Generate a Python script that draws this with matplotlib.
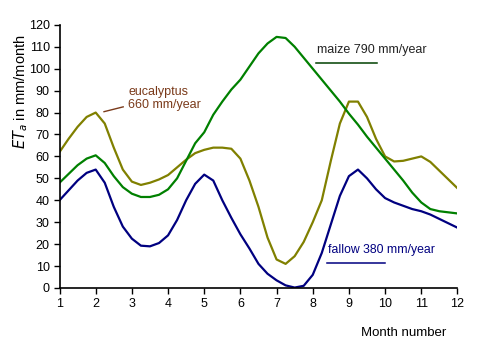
import matplotlib
matplotlib.use("Agg")
import matplotlib.pyplot as plt
import numpy as np

plt.rcParams['font.family'] = ['Liberation Sans', 'DejaVu Sans']

# months, read at quarter-month steps
month = np.arange(1, 12.01, 0.25)

fallow = [40, 44.5, 49, 52.5, 54, 48, 37, 28, 22.5, 19.3, 19, 20.5,
          24, 31, 40, 47.5, 51.7, 49, 40, 32, 24.5, 18, 11, 6.5,
          3.5, 1.2, 0.2, 1, 6, 16, 29, 42, 51, 54, 50, 45,
          41, 39, 37.5, 36, 35, 33.5, 31.5, 29.5, 27.5]

maize = [48, 52, 56, 59, 60.5, 57, 51, 46, 43, 41.5, 41.5, 42.5,
         45, 50, 58, 66, 71, 79, 85, 90.5, 95, 101, 107, 111.5,
         114.5, 114, 110, 105, 100, 95, 90, 85, 79.5, 74.5, 69, 64,
         59, 54, 49, 43.5, 39, 36, 35, 34.5, 34]

eucalyptus = [62, 68, 73.5, 78, 80, 75, 64, 54, 48.5, 47, 48, 49.5,
              51.5, 55, 58.5, 61.5, 63, 64, 64, 63.5, 59, 49, 37, 23,
              13, 11, 14.5, 21, 30, 40, 58, 75, 85, 85, 78, 68,
              60, 57.7, 58, 59, 60, 57.5, 53.5, 49.5, 45.5]

fig = plt.figure(figsize=(4.8, 3.6), dpi=100)
ax = fig.add_axes([0.124, 0.2, 0.829, 0.731])

ax.plot(month, eucalyptus, color='#808000', lw=1.6)
ax.plot(month, maize, color='#008000', lw=1.6)
ax.plot(month, fallow, color='#000080', lw=1.6)

ax.set_xlim(1, 12)
ax.set_ylim(0, 120)
ax.set_xticks(range(1, 13))
ax.set_yticks(range(0, 121, 10))
ax.tick_params(direction='out', length=4, width=1, labelsize=9, pad=3)
ax.spines['top'].set_visible(False)
ax.spines['right'].set_visible(False)
for s in ['left', 'bottom']:
    ax.spines[s].set_linewidth(1.2)

ax.set_ylabel('$ET_a$ in mm/month', fontsize=10.5)
ax.yaxis.set_label_coords(-0.075, 0.745)
ax.set_xlabel('Month number', fontsize=9.5)
ax.xaxis.set_label_coords(0.865, -0.15)

# labels for the curves
ax.text(8.12, 108.5, 'maize 790 mm/year', fontsize=9, color='#222222', va='center')
ax.plot([8.1, 9.78], [102.7, 102.7], color='#004000', lw=1.1, clip_on=False)

ax.text(8.43, 17.4, 'fallow 380 mm/year', fontsize=8.8, color='#000080', va='center')
ax.plot([8.4, 10.0], [11.4, 11.4], color='#000080', lw=1.1, clip_on=False)

ax.text(2.9, 86.5, 'eucalyptus\n660 mm/year', fontsize=9, color='#7a3a1a',
        va='center', ha='left', linespacing=1.05)
ax.plot([2.23, 2.76], [80.4, 82.6], color='#7a3a1a', lw=1.0)

fig.savefig('out.png', dpi=100)
